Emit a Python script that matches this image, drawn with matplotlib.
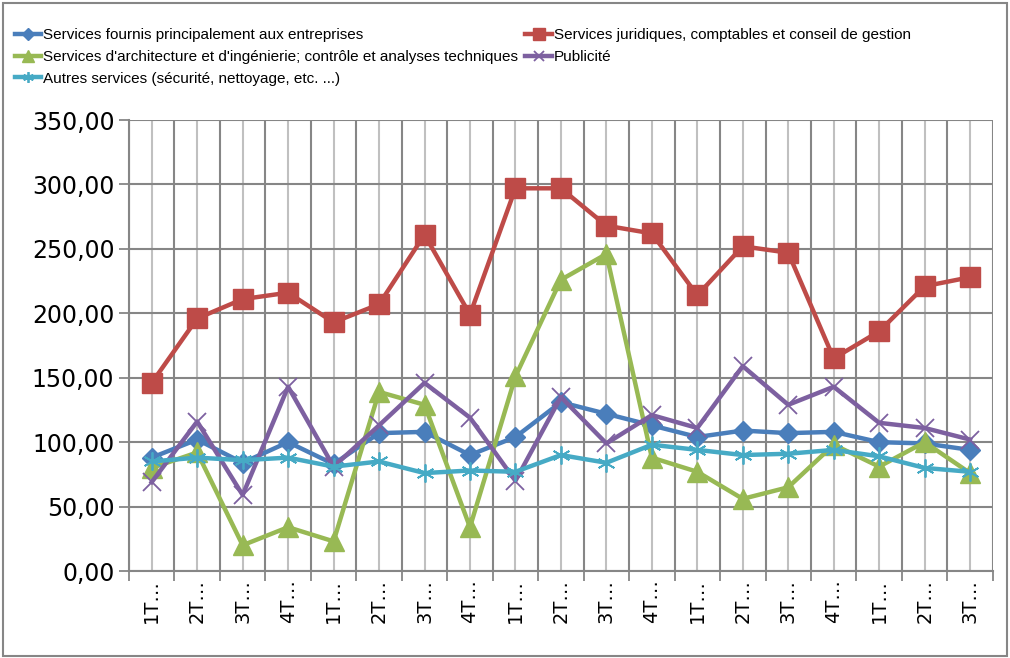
import numpy as np
import matplotlib.pyplot as plt
from matplotlib.patches import Rectangle
from matplotlib.ticker import FixedLocator

# Données
trimestres = ['1T…', '2T…', '3T…', '4T…'] * 4 + ['1T…', '2T…', '3T…']

entreprises = [88, 102, 84, 100, 83, 107, 108, 90, 104, 131, 122, 113, 104, 109, 107, 108, 100, 99, 94]
juridiques = [146, 196, 211, 216, 193, 207, 261, 199, 297, 297, 268, 262, 214, 252, 247, 165, 186, 221, 228]
architecture = [80, 92, 20, 34, 23, 139, 129, 34, 151, 226, 246, 88, 77, 56, 65, 98, 81, 100, 76]
publicite = [69, 116, 59, 143, 81, 113, 146, 119, 70, 135, 99, 121, 111, 159, 129, 143, 115, 111, 102]
autres = [85, 88, 86, 88, 81, 85, 76, 78, 77, 90, 84, 98, 94, 90, 91, 94, 89, 80, 77]

noms = ['Services fournis principalement aux entreprises',
        'Services juridiques, comptables et conseil de gestion',
        "Services d'architecture et d'ingénierie; contrôle et analyses techniques",
        'Publicité',
        'Autres services (sécurité, nettoyage, etc. ...)']

fig = plt.figure(figsize=(10.1, 6.58), dpi=100)
ax = fig.add_axes([0.1277, 0.1322, 0.8553, 0.6854])

x = np.arange(len(trimestres))
lw = 3.2
h_bleu, = ax.plot(x, entreprises, color='#4A7EBB', lw=lw, marker='D', ms=10, zorder=3)
h_rouge, = ax.plot(x, juridiques, color='#BE4B48', lw=lw, marker='s', ms=14, zorder=4)
h_vert, = ax.plot(x, architecture, color='#98B954', lw=lw, marker='^', ms=15, zorder=5)
h_violet, = ax.plot(x, publicite, color='#7D60A0', lw=lw, marker='x', ms=13, mew=1.3, zorder=6)
h_cyan, = ax.plot(x, autres, color='#46AAC5', lw=lw, marker=(6, 2, 0), ms=13, mew=1.3, zorder=7)

ax.set_xlim(-0.5, len(trimestres) - 0.5)
ax.set_ylim(0, 350)
ax.set_yticks(np.arange(0, 351, 50))
ax.set_yticklabels([f'{v:.2f}'.replace('.', ',') for v in np.arange(0, 351, 50)],
                   fontsize=17, family='DejaVu Sans')

ax.set_xticks(x)
ax.set_xticklabels(trimestres, rotation=90, fontsize=14, family='DejaVu Sans')
ax.xaxis.set_minor_locator(FixedLocator(np.arange(-0.5, len(trimestres), 1)))
ax.tick_params(axis='x', which='major', length=0, pad=6)
ax.tick_params(axis='x', which='minor', length=7, width=1.3, color='#868686')
ax.tick_params(axis='y', length=7, width=1.3, color='#868686')

ax.grid(axis='x', which='major', color='#C0C0C0', lw=1.5)
ax.grid(axis='x', which='minor', color='#868686', lw=1.5)
ax.grid(axis='y', which='major', color='#868686', lw=1.5)
ax.set_axisbelow(True)
for s in ['top', 'right']:
    ax.spines[s].set_visible(False)
for s in ['left', 'bottom']:
    ax.spines[s].set_color('#868686')
    ax.spines[s].set_linewidth(1.5)

# Légende en deux colonnes, remplie par ligne
handles = [h_bleu, h_vert, h_cyan, h_rouge, h_violet]
labels = [noms[0], noms[2], noms[4], noms[1], noms[3]]
fig.legend(handles, labels, ncol=2, loc='upper left', bbox_to_anchor=(0.001, 0.978),
           frameon=False, prop={'family': 'Liberation Sans', 'size': 11},
           handlelength=1.75, handletextpad=0.12, columnspacing=0.45, labelspacing=0.5,
           markerscale=0.6)

fig.patches.append(Rectangle((0.003, 0.003), 0.994, 0.992, transform=fig.transFigure,
                             fill=False, edgecolor='#868686', lw=1.5))

fig.savefig('out.png', dpi=100)
